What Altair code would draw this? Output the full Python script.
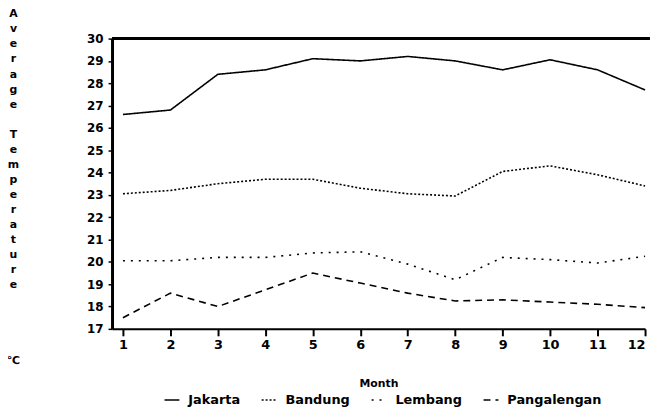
import altair as alt
import pandas as pd

months = list(range(1, 13))
cities = ["Jakarta", "Bandung", "Lembang", "Pangalengan"]
jakarta = [26.6, 26.8, 28.4, 28.6, 29.1, 29.0, 29.2, 29.0, 28.6, 29.05, 28.6, 27.7]
bandung = [23.05, 23.2, 23.5, 23.7, 23.7, 23.3, 23.05, 22.95, 24.05, 24.3, 23.9, 23.4]
lembang = [20.05, 20.05, 20.2, 20.2, 20.4, 20.45, 19.9, 19.2, 20.2, 20.1, 19.95, 20.25]
pangalengan = [17.5, 18.6, 18.0, 18.75, 19.5, 19.05, 18.6, 18.25, 18.3, 18.2, 18.1, 17.95]
y_ticks = list(range(17, 31))

series = {"Jakarta": jakarta, "Bandung": bandung, "Lembang": lembang, "Pangalengan": pangalengan}
rows = []
for c in cities:
    for m, v in zip(months, series[c]):
        rows.append({"Month": m, "City": c, "Temp": v})
df = pd.DataFrame(rows)

FONT = "DejaVu Sans"
BL = "\u2800"
y_title = list("Average") + [BL] + list("Temperature") + [BL, BL, BL, BL] + ["℃"]

lines = alt.Chart(df).mark_line(color="black", strokeWidth=1.6).encode(
    x=alt.X("Month:Q", scale=alt.Scale(domain=[0.77, 12], nice=False, zero=False),
            axis=alt.Axis(values=months, format="d", title="Month", grid=False,
                          domainWidth=2, domainColor="black", tickSize=7, tickWidth=2,
                          tickColor="black", labelFontSize=13, labelFontWeight="bold",
                          labelFont=FONT, labelColor="black", labelPadding=3,
                          labelOverlap=False,
                          titleFont=FONT, titleFontSize=11, titleFontWeight="bold",
                          titleColor="black", titleY=55, titleBaseline="middle")),
    y=alt.Y("Temp:Q", scale=alt.Scale(domain=[17, 30], nice=False, zero=False),
            axis=alt.Axis(values=y_ticks, format="d", title=y_title, grid=False,
                          domainWidth=3, domainColor="black", tickSize=4, tickWidth=1.5,
                          tickColor="black", labelFontSize=12, labelFontWeight="bold",
                          labelFont=FONT, labelColor="black", labelPadding=5,
                          labelOverlap=False, labelBound=False, labelFlush=False,
                          titleFont=FONT, titleFontSize=11, titleFontWeight="bold",
                          titleColor="black", titleAngle=0, titleAlign="center",
                          titleBaseline="top", titleX=-100, titleY=-31,
                          titleLineHeight=15.2)),
    strokeDash=alt.StrokeDash("City:N", sort=cities,
                              scale=alt.Scale(domain=cities,
                                              range=[[1, 0], [2, 2], [2, 6], [7, 5]]),
                              legend=alt.Legend(title=None, orient="none", direction="horizontal",
                                                legendX=52, legendY=356, symbolType="stroke",
                                                symbolStrokeColor="black", symbolStrokeWidth=1.5,
                                                symbolSize=225, labelFont=FONT, labelFontSize=13,
                                                labelFontWeight="bold", labelColor="black",
                                                labelOffset=8, columnPadding=18)),
)

# top frame line of the plot area
top_rule = alt.Chart(df).mark_rule(color="black", strokeWidth=2.5, clip=False).encode(
    y=alt.value(0), x=alt.value(0), x2=alt.value(546)
)

chart = (lines + top_rule).properties(
    width=538, height=293,
    autosize=alt.AutoSizeParams(type="none"),
    padding={"left": 105, "top": 29, "right": 5, "bottom": 77},
).configure_view(stroke=None)

chart.save("out.html", embed_options={"renderer": "svg", "actions": False})
